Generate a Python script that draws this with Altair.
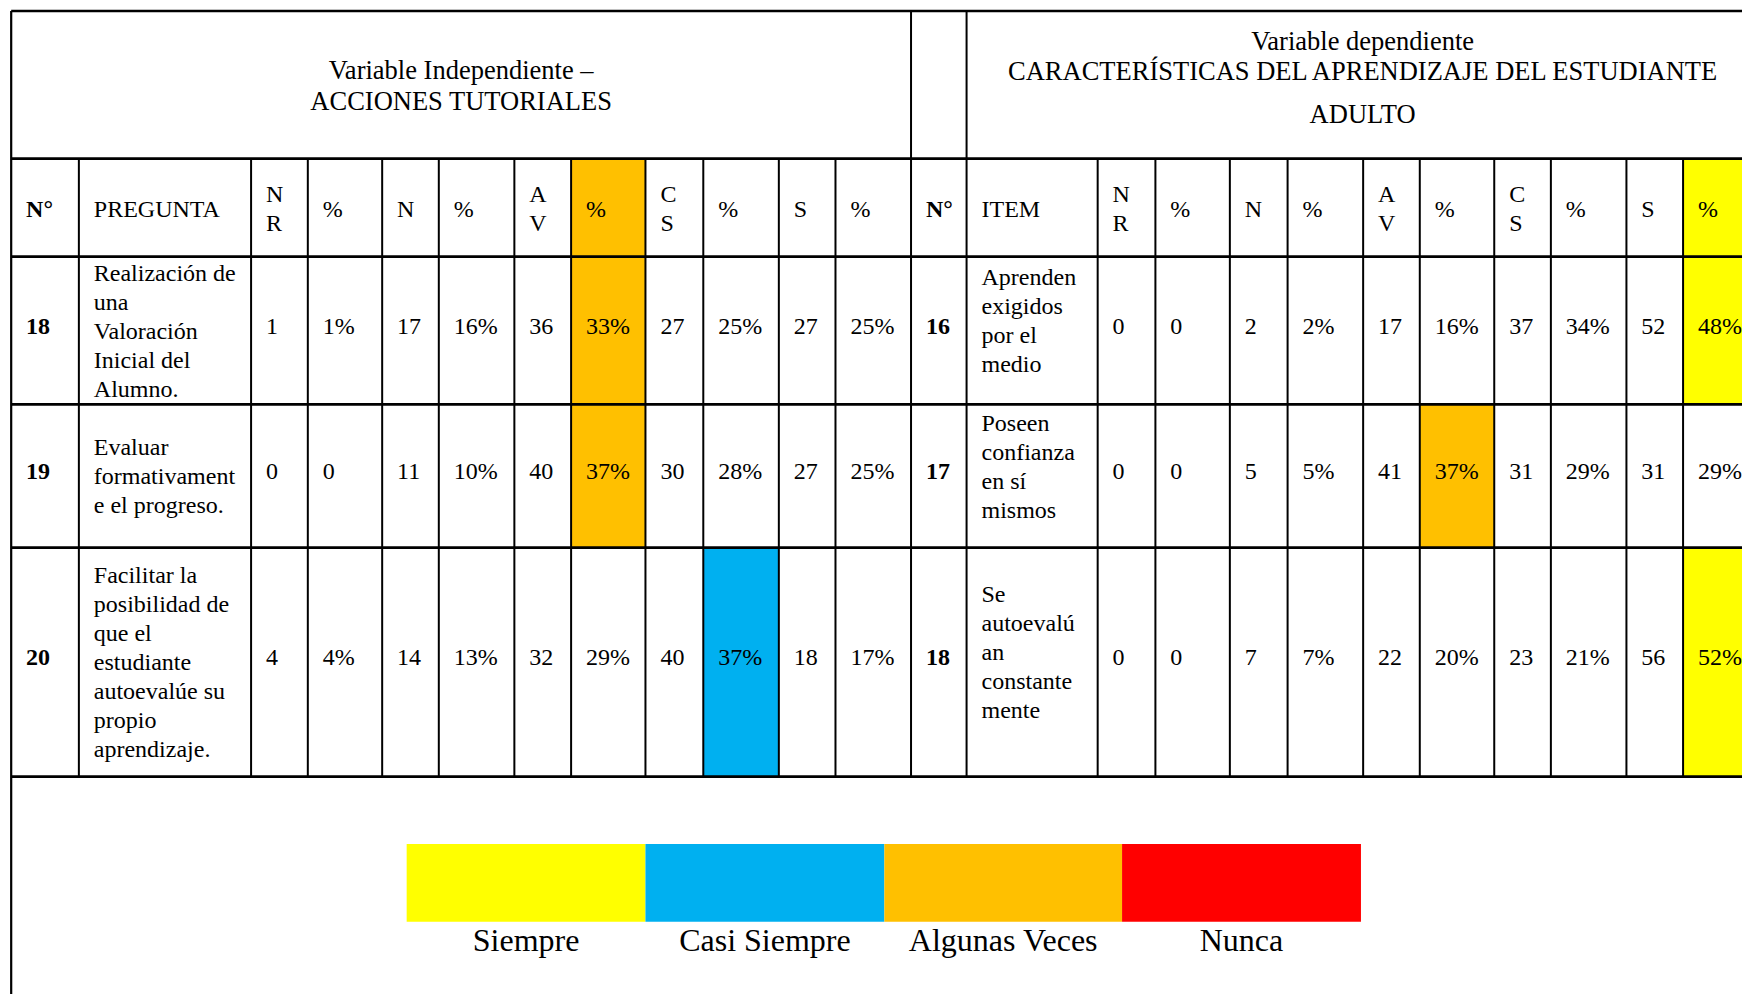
import altair as alt
import pandas as pd

# ---------------- data ----------------
left_title = ["Variable Independiente –", "ACCIONES TUTORIALES"]
right_title = ["Variable dependiente", "CARACTERÍSTICAS DEL APRENDIZAJE DEL ESTUDIANTE", "ADULTO"]
left_head = ["N°", "PREGUNTA"]
right_head = ["N°", "ITEM"]
categories = ["NR", "N", "AV", "CS", "S"]
category_headers = ["N\nR", "N", "A\nV", "C\nS", "S"]

left_ids = ["18", "19", "20"]
left_questions = [
    "Realización de\nuna\nValoración\nInicial del\nAlumno.",
    "Evaluar\nformativament\ne el progreso.",
    "Facilitar la\nposibilidad de\nque el\nestudiante\nautoevalúe su\npropio\naprendizaje.",
]
left_counts = {"NR": [1, 0, 4], "N": [17, 11, 14], "AV": [36, 40, 32], "CS": [27, 30, 40], "S": [27, 27, 18]}
left_pcts = {"NR": ["1%", "0", "4%"], "N": ["16%", "10%", "13%"], "AV": ["33%", "37%", "29%"],
             "CS": ["25%", "28%", "37%"], "S": ["25%", "25%", "17%"]}

right_ids = ["16", "17", "18"]
right_items = [
    "Aprenden\nexigidos\npor el\nmedio",
    "Poseen\nconfianza\nen sí\nmismos",
    "Se\nautoevalú\nan\nconstante\nmente",
]
right_counts = {"NR": [0, 0, 0], "N": [2, 5, 7], "AV": [17, 41, 22], "CS": [37, 31, 23], "S": [52, 31, 56]}
right_pcts = {"NR": ["0", "0", "0"], "N": ["2%", "5%", "7%"], "AV": ["16%", "37%", "20%"],
              "CS": ["34%", "29%", "21%"], "S": ["48%", "29%", "52%"]}

legend_keys = ["S", "CS", "AV", "N"]
legend_labels = ["Siempre", "Casi Siempre", "Algunas Veces", "Nunca"]

# ---------------- styles / layout ----------------
COLORS = {"S": "#FFFF00", "CS": "#00B0F0", "AV": "#FFC000", "N": "#FF0000"}
FONT = "Liberation Serif"
BODY_FS = 24
TITLE_FS = 26.5
LEGEND_FS = 32
PAD = 15
LINE_H = 29

left_edges = [11.2, 79.2, 252.2, 309.2, 383.9, 440.8, 516.7, 573.7, 648.4, 706.5, 782.4, 839.3, 915.2]
right_edges = [915.2, 971.0, 1102.7, 1160.7, 1235.5, 1293.5, 1369.4, 1426.3, 1501.1, 1558.0, 1633.9, 1690.8, 1766.7]
TOP = 11.0
row_edges = [158.6, 256.7, 404.3, 547.7, 776.7]
left_title_y = [70.7, 101.7]
right_title_y = [41.7, 71.7, 115.0]
legend_edges = [408.5, 648.4, 888.4, 1127.2, 1367.2]
legend_box_y = [844.0, 921.7]
legend_label_y = 941.0

texts = []
centered = []
fills = []


def first_line_y(center, label):
    """Vega puts the first line of a multi-line text at y: shift so the block is centred."""
    n = label.count("\n") + 1
    return center - (n - 1) * LINE_H / 2


def add_side(edges, ids, items, counts, pcts, head, text_dy):
    hy = (row_edges[0] + row_edges[1]) / 2 + 2
    headers = list(head)
    for hh in category_headers:
        headers += [hh, "%"]
    for j, h in enumerate(headers):
        texts.append(dict(x=edges[j] + PAD, y=first_line_y(hy, h), t=h, fs=BODY_FS, bold=(j == 0)))
    winners = []
    for i in range(len(ids)):
        y0, y1 = row_edges[i + 1], row_edges[i + 2]
        mid = (y0 + y1) / 2
        texts.append(dict(x=edges[0] + PAD, y=mid - 4, t=ids[i], fs=BODY_FS, bold=True))
        texts.append(dict(x=edges[1] + PAD, y=first_line_y(mid + text_dy, items[i]), t=items[i],
                          fs=BODY_FS, bold=False))
        vals = [float(pcts[c][i].rstrip("%")) for c in categories]
        win = categories[vals.index(max(vals))]
        winners.append(win)
        for k, c in enumerate(categories):
            xc, xp, xe = edges[2 + 2 * k], edges[3 + 2 * k], edges[4 + 2 * k]
            texts.append(dict(x=xc + PAD, y=mid - 4, t=str(counts[c][i]), fs=BODY_FS, bold=False))
            texts.append(dict(x=xp + PAD, y=mid - 4, t=pcts[c][i], fs=BODY_FS, bold=False))
            if c == win:
                fills.append(dict(x=xp, x2=xe, y=y0, y2=y1, color=COLORS[c]))
    top = max(set(winners), key=winners.count)
    k = categories.index(top)
    fills.append(dict(x=edges[3 + 2 * k], x2=edges[4 + 2 * k], y=row_edges[0], y2=row_edges[1],
                      color=COLORS[top]))


add_side(left_edges, left_ids, left_questions, left_counts, left_pcts, left_head, 1)
add_side(right_edges, right_ids, right_items, right_counts, right_pcts, right_head, -9)

lcx = (left_edges[0] + left_edges[-1]) / 2
rcx = (right_edges[1] + right_edges[-1]) / 2
for t, y in zip(left_title, left_title_y):
    centered.append(dict(x=lcx, y=y, t=t, fs=TITLE_FS))
for t, y in zip(right_title, right_title_y):
    centered.append(dict(x=rcx, y=y, t=t, fs=TITLE_FS))

legend_rows = []
for i, (k, lab) in enumerate(zip(legend_keys, legend_labels)):
    x0, x1 = legend_edges[i], legend_edges[i + 1]
    legend_rows.append(dict(x=x0, x2=x1, y=legend_box_y[0], y2=legend_box_y[1], color=COLORS[k]))
    centered.append(dict(x=(x0 + x1) / 2, y=legend_label_y, t=lab, fs=LEGEND_FS))

# borders
lines = []
X0, X1 = left_edges[0], right_edges[-1]
for y in [TOP] + row_edges:
    lines.append(dict(x=X0, x2=X1, y=y, y2=y, w=2.7))
lines.append(dict(x=X0, x2=X0, y=TOP, y2=1010, w=2.2))
for x in [left_edges[-1], right_edges[1], right_edges[-1]]:
    lines.append(dict(x=x, x2=x, y=TOP, y2=row_edges[-1], w=2))
for x in left_edges[1:-1] + right_edges[2:-1]:
    lines.append(dict(x=x, x2=x, y=row_edges[0], y2=row_edges[-1], w=2))

XS = alt.Scale(domain=[8, 1750], nice=False, zero=False)
YS = alt.Scale(domain=[8, 994], nice=False, zero=False, reverse=True)


def X(f="x"):
    return alt.X(f"{f}:Q", scale=XS, axis=None)


def Y(f="y"):
    return alt.Y(f"{f}:Q", scale=YS, axis=None)


fill_layer = alt.Chart(pd.DataFrame(fills + legend_rows)).mark_rect(clip=True).encode(
    x=X(), x2="x2", y=Y(), y2="y2", color=alt.Color("color:N", scale=None))

line_layer = alt.Chart(pd.DataFrame(lines)).mark_rule(clip=True, color="black").encode(
    x=X(), x2="x2", y=Y(), y2="y2", size=alt.Size("w:Q", scale=None, legend=None))

tdf = pd.DataFrame(texts)


def text_layer(df, align, weight):
    return alt.Chart(df).mark_text(align=align, baseline="middle", font=FONT, fontWeight=weight,
                                   lineBreak="\n", lineHeight=LINE_H, color="black", clip=True).encode(
        x=X(), y=Y(), text="t:N", size=alt.Size("fs:Q", scale=None, legend=None))


normal_layer = text_layer(tdf[~tdf["bold"]], "left", "normal")
bold_layer = text_layer(tdf[tdf["bold"]], "left", "bold")
center_layer = text_layer(pd.DataFrame(centered), "center", "normal")

chart = alt.layer(fill_layer, line_layer, normal_layer, bold_layer, center_layer).properties(
    width=1734, height=986, padding=0,
    autosize=alt.AutoSizeParams(type="fit", contains="padding"),
    background="white",
).configure_view(stroke=None)

chart.save("out.html", embed_options={"renderer": "svg", "actions": False})
